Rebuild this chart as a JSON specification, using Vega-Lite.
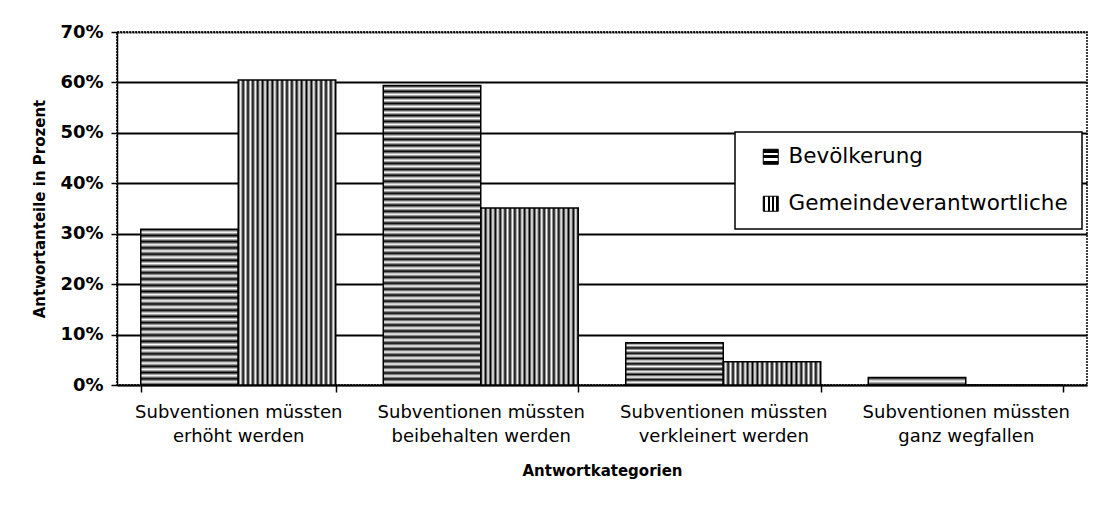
{
  "$schema": "https://vega.github.io/schema/vega-lite/v6.json",
  "width": 970,
  "height": 353,
  "autosize": "none",
  "padding": {"left": 117, "top": 32, "right": 12, "bottom": 127},
  "background": "white",
  "data": {
    "values": [
      {"Kategorie": "Subventionen müssten erhöht werden", "Gruppe": "Bevölkerung", "Anteil": 30.9},
      {"Kategorie": "Subventionen müssten erhöht werden", "Gruppe": "Gemeindeverantwortliche", "Anteil": 60.5},
      {"Kategorie": "Subventionen müssten beibehalten werden", "Gruppe": "Bevölkerung", "Anteil": 59.4},
      {"Kategorie": "Subventionen müssten beibehalten werden", "Gruppe": "Gemeindeverantwortliche", "Anteil": 35.1},
      {"Kategorie": "Subventionen müssten verkleinert werden", "Gruppe": "Bevölkerung", "Anteil": 8.4},
      {"Kategorie": "Subventionen müssten verkleinert werden", "Gruppe": "Gemeindeverantwortliche", "Anteil": 4.6},
      {"Kategorie": "Subventionen müssten ganz wegfallen", "Gruppe": "Bevölkerung", "Anteil": 1.5},
      {"Kategorie": "Subventionen müssten ganz wegfallen", "Gruppe": "Gemeindeverantwortliche", "Anteil": 0}
    ]
  },
  "mark": {"type": "bar", "stroke": "black", "strokeWidth": 1.5},
  "encoding": {
    "x": {
      "field": "Kategorie",
      "type": "nominal",
      "sort": null,
      "scale": {"paddingInner": 0.196, "paddingOuter": 0.098},
      "axis": {
        "title": "Antwortkategorien",
        "labelAngle": 0,
        "labelExpr": "[slice(datum.label,0,20), slice(datum.label,21)]",
        "labelFont": "DejaVu Sans",
        "labelFontSize": 18,
        "labelLineHeight": 24,
        "labelColor": "black",
        "labelLimit": 400,
        "labelPadding": 11,
        "tickBand": "extent",
        "tickSize": 7,
        "tickColor": "black",
        "tickWidth": 1.5,
        "domainColor": "black",
        "domainWidth": 1.5,
        "grid": false,
        "titleFont": "DejaVu Sans",
        "titleFontSize": 15,
        "titleFontWeight": "bold",
        "titleColor": "black",
        "titlePadding": 18
      }
    },
    "xOffset": {"field": "Gruppe", "type": "nominal", "sort": ["Bevölkerung", "Gemeindeverantwortliche"]},
    "y": {
      "field": "Anteil",
      "type": "quantitative",
      "scale": {"domain": [0, 70], "nice": false},
      "axis": {
        "title": "Antwortanteile in Prozent",
        "values": [0, 10, 20, 30, 40, 50, 60, 70],
        "labelExpr": "datum.value + '%'",
        "labelFont": "DejaVu Sans",
        "labelFontSize": 18,
        "labelFontWeight": "bold",
        "labelColor": "black",
        "labelPadding": 8,
        "tickSize": 6,
        "tickColor": "black",
        "tickWidth": 1.5,
        "domainColor": "black",
        "domainWidth": 1.5,
        "grid": true,
        "gridColor": "black",
        "gridWidth": 1.8,
        "gridOpacity": 1,
        "gridDash": {"condition": {"test": "datum.value == 70", "value": [2, 1]}, "value": []},
        "titleFont": "DejaVu Sans",
        "titleFontSize": 15,
        "titleFontWeight": "bold",
        "titleColor": "black",
        "titlePadding": 12
      }
    },
    "fill": {
      "field": "Gruppe",
      "type": "nominal",
      "scale": {
        "domain": ["Bevölkerung", "Gemeindeverantwortliche"],
        "range": [
          {"expr": "{gradient: 'linear', x1: 0, y1: 0, x2: 0, y2: 1, stops: [{offset: 0, color: '#000'}, {offset: 0.25, color: '#000'}, {offset: 0.25, color: '#fff'}, {offset: 0.4, color: '#fff'}, {offset: 0.4, color: '#000'}, {offset: 0.6, color: '#000'}, {offset: 0.6, color: '#fff'}, {offset: 0.75, color: '#fff'}, {offset: 0.75, color: '#000'}, {offset: 1, color: '#000'}]}"},
          {"expr": "{gradient: 'linear', x1: 0, y1: 0, x2: 1, y2: 0, stops: [{offset: 0, color: '#000'}, {offset: 0.15, color: '#000'}, {offset: 0.15, color: '#fff'}, {offset: 0.3, color: '#fff'}, {offset: 0.3, color: '#000'}, {offset: 0.42, color: '#000'}, {offset: 0.42, color: '#fff'}, {offset: 0.58, color: '#fff'}, {offset: 0.58, color: '#000'}, {offset: 0.7, color: '#000'}, {offset: 0.7, color: '#fff'}, {offset: 0.85, color: '#fff'}, {offset: 0.85, color: '#000'}, {offset: 1, color: '#000'}]}"}
        ]
      },
      "legend": {
        "orient": "none",
        "legendX": 618,
        "legendY": 100,
        "title": null,
        "symbolType": "square",
        "symbolSize": 225,
        "symbolStrokeColor": "black",
        "symbolStrokeWidth": 1,
        "symbolOpacity": 1,
        "symbolOffset": 11,
        "labelFont": "DejaVu Sans",
        "labelFontSize": 21.5,
        "labelColor": "black",
        "labelLimit": 400,
        "labelOffset": 7,
        "labelExpr": "datum.label + ' '",
        "rowPadding": 24,
        "padding": 14,
        "strokeColor": "black",
        "fillColor": "white",
        "encode": {
          "legend": {"update": {"strokeWidth": {"value": 1.5}}}
        }
      },
      "condition": [
        {"test": "datum.Gruppe == 'Gemeindeverantwortliche'", "value": {"gradient": "linear", "x1": 0, "y1": 0, "x2": 1, "y2": 0, "stops": [
          {"offset": 0, "color": "#000"}, {"offset": 0.025, "color": "#fff"}, {"offset": 0.05, "color": "#000"}, {"offset": 0.075, "color": "#fff"}, {"offset": 0.1, "color": "#000"}, {"offset": 0.125, "color": "#fff"}, {"offset": 0.15, "color": "#000"}, {"offset": 0.175, "color": "#fff"}, {"offset": 0.2, "color": "#000"}, {"offset": 0.225, "color": "#fff"},
          {"offset": 0.25, "color": "#000"}, {"offset": 0.275, "color": "#fff"}, {"offset": 0.3, "color": "#000"}, {"offset": 0.325, "color": "#fff"}, {"offset": 0.35, "color": "#000"}, {"offset": 0.375, "color": "#fff"}, {"offset": 0.4, "color": "#000"}, {"offset": 0.425, "color": "#fff"}, {"offset": 0.45, "color": "#000"}, {"offset": 0.475, "color": "#fff"},
          {"offset": 0.5, "color": "#000"}, {"offset": 0.525, "color": "#fff"}, {"offset": 0.55, "color": "#000"}, {"offset": 0.575, "color": "#fff"}, {"offset": 0.6, "color": "#000"}, {"offset": 0.625, "color": "#fff"}, {"offset": 0.65, "color": "#000"}, {"offset": 0.675, "color": "#fff"}, {"offset": 0.7, "color": "#000"}, {"offset": 0.725, "color": "#fff"},
          {"offset": 0.75, "color": "#000"}, {"offset": 0.775, "color": "#fff"}, {"offset": 0.8, "color": "#000"}, {"offset": 0.825, "color": "#fff"}, {"offset": 0.85, "color": "#000"}, {"offset": 0.875, "color": "#fff"}, {"offset": 0.9, "color": "#000"}, {"offset": 0.925, "color": "#fff"}, {"offset": 0.95, "color": "#000"}, {"offset": 0.975, "color": "#fff"},
          {"offset": 1, "color": "#000"}]}},
        {"test": "indexof(datum.Kategorie, 'erhöht') >= 0", "value": {"gradient": "linear", "x1": 0, "y1": 0, "x2": 0, "y2": 1, "stops": [
          {"offset": 0, "color": "#000"}, {"offset": 0.02, "color": "#fff"}, {"offset": 0.04, "color": "#000"}, {"offset": 0.06, "color": "#fff"}, {"offset": 0.08, "color": "#000"}, {"offset": 0.1, "color": "#fff"}, {"offset": 0.12, "color": "#000"}, {"offset": 0.14, "color": "#fff"}, {"offset": 0.16, "color": "#000"}, {"offset": 0.18, "color": "#fff"},
          {"offset": 0.2, "color": "#000"}, {"offset": 0.22, "color": "#fff"}, {"offset": 0.24, "color": "#000"}, {"offset": 0.26, "color": "#fff"}, {"offset": 0.28, "color": "#000"}, {"offset": 0.3, "color": "#fff"}, {"offset": 0.32, "color": "#000"}, {"offset": 0.34, "color": "#fff"}, {"offset": 0.36, "color": "#000"}, {"offset": 0.38, "color": "#fff"},
          {"offset": 0.4, "color": "#000"}, {"offset": 0.42, "color": "#fff"}, {"offset": 0.44, "color": "#000"}, {"offset": 0.46, "color": "#fff"}, {"offset": 0.48, "color": "#000"}, {"offset": 0.5, "color": "#fff"}, {"offset": 0.52, "color": "#000"}, {"offset": 0.54, "color": "#fff"}, {"offset": 0.56, "color": "#000"}, {"offset": 0.58, "color": "#fff"},
          {"offset": 0.6, "color": "#000"}, {"offset": 0.62, "color": "#fff"}, {"offset": 0.64, "color": "#000"}, {"offset": 0.66, "color": "#fff"}, {"offset": 0.68, "color": "#000"}, {"offset": 0.7, "color": "#fff"}, {"offset": 0.72, "color": "#000"}, {"offset": 0.74, "color": "#fff"}, {"offset": 0.76, "color": "#000"}, {"offset": 0.78, "color": "#fff"},
          {"offset": 0.8, "color": "#000"}, {"offset": 0.82, "color": "#fff"}, {"offset": 0.84, "color": "#000"}, {"offset": 0.86, "color": "#fff"}, {"offset": 0.88, "color": "#000"}, {"offset": 0.9, "color": "#fff"}, {"offset": 0.92, "color": "#000"}, {"offset": 0.94, "color": "#fff"}, {"offset": 0.96, "color": "#000"}, {"offset": 0.98, "color": "#fff"},
          {"offset": 1, "color": "#000"}]}},
        {"test": "indexof(datum.Kategorie, 'beibehalten') >= 0", "value": {"gradient": "linear", "x1": 0, "y1": 0, "x2": 0, "y2": 1, "stops": [
          {"offset": 0, "color": "#000"}, {"offset": 0.01, "color": "#fff"}, {"offset": 0.02, "color": "#000"}, {"offset": 0.03, "color": "#fff"}, {"offset": 0.04, "color": "#000"}, {"offset": 0.05, "color": "#fff"}, {"offset": 0.06, "color": "#000"}, {"offset": 0.07, "color": "#fff"}, {"offset": 0.08, "color": "#000"}, {"offset": 0.09, "color": "#fff"},
          {"offset": 0.1, "color": "#000"}, {"offset": 0.11, "color": "#fff"}, {"offset": 0.12, "color": "#000"}, {"offset": 0.13, "color": "#fff"}, {"offset": 0.14, "color": "#000"}, {"offset": 0.15, "color": "#fff"}, {"offset": 0.16, "color": "#000"}, {"offset": 0.17, "color": "#fff"}, {"offset": 0.18, "color": "#000"}, {"offset": 0.19, "color": "#fff"},
          {"offset": 0.2, "color": "#000"}, {"offset": 0.21, "color": "#fff"}, {"offset": 0.22, "color": "#000"}, {"offset": 0.23, "color": "#fff"}, {"offset": 0.24, "color": "#000"}, {"offset": 0.25, "color": "#fff"}, {"offset": 0.26, "color": "#000"}, {"offset": 0.27, "color": "#fff"}, {"offset": 0.28, "color": "#000"}, {"offset": 0.29, "color": "#fff"},
          {"offset": 0.3, "color": "#000"}, {"offset": 0.31, "color": "#fff"}, {"offset": 0.32, "color": "#000"}, {"offset": 0.33, "color": "#fff"}, {"offset": 0.34, "color": "#000"}, {"offset": 0.35, "color": "#fff"}, {"offset": 0.36, "color": "#000"}, {"offset": 0.37, "color": "#fff"}, {"offset": 0.38, "color": "#000"}, {"offset": 0.39, "color": "#fff"},
          {"offset": 0.4, "color": "#000"}, {"offset": 0.41, "color": "#fff"}, {"offset": 0.42, "color": "#000"}, {"offset": 0.43, "color": "#fff"}, {"offset": 0.44, "color": "#000"}, {"offset": 0.45, "color": "#fff"}, {"offset": 0.46, "color": "#000"}, {"offset": 0.47, "color": "#fff"}, {"offset": 0.48, "color": "#000"}, {"offset": 0.49, "color": "#fff"},
          {"offset": 0.5, "color": "#000"}, {"offset": 0.51, "color": "#fff"}, {"offset": 0.52, "color": "#000"}, {"offset": 0.53, "color": "#fff"}, {"offset": 0.54, "color": "#000"}, {"offset": 0.55, "color": "#fff"}, {"offset": 0.56, "color": "#000"}, {"offset": 0.57, "color": "#fff"}, {"offset": 0.58, "color": "#000"}, {"offset": 0.59, "color": "#fff"},
          {"offset": 0.6, "color": "#000"}, {"offset": 0.61, "color": "#fff"}, {"offset": 0.62, "color": "#000"}, {"offset": 0.63, "color": "#fff"}, {"offset": 0.64, "color": "#000"}, {"offset": 0.65, "color": "#fff"}, {"offset": 0.66, "color": "#000"}, {"offset": 0.67, "color": "#fff"}, {"offset": 0.68, "color": "#000"}, {"offset": 0.69, "color": "#fff"},
          {"offset": 0.7, "color": "#000"}, {"offset": 0.71, "color": "#fff"}, {"offset": 0.72, "color": "#000"}, {"offset": 0.73, "color": "#fff"}, {"offset": 0.74, "color": "#000"}, {"offset": 0.75, "color": "#fff"}, {"offset": 0.76, "color": "#000"}, {"offset": 0.77, "color": "#fff"}, {"offset": 0.78, "color": "#000"}, {"offset": 0.79, "color": "#fff"},
          {"offset": 0.8, "color": "#000"}, {"offset": 0.81, "color": "#fff"}, {"offset": 0.82, "color": "#000"}, {"offset": 0.83, "color": "#fff"}, {"offset": 0.84, "color": "#000"}, {"offset": 0.85, "color": "#fff"}, {"offset": 0.86, "color": "#000"}, {"offset": 0.87, "color": "#fff"}, {"offset": 0.88, "color": "#000"}, {"offset": 0.89, "color": "#fff"},
          {"offset": 0.9, "color": "#000"}, {"offset": 0.91, "color": "#fff"}, {"offset": 0.92, "color": "#000"}, {"offset": 0.93, "color": "#fff"}, {"offset": 0.94, "color": "#000"}, {"offset": 0.95, "color": "#fff"}, {"offset": 0.96, "color": "#000"}, {"offset": 0.97, "color": "#fff"}, {"offset": 0.98, "color": "#000"}, {"offset": 0.99, "color": "#fff"},
          {"offset": 1, "color": "#000"}]}},
        {"test": "indexof(datum.Kategorie, 'verkleinert') >= 0", "value": {"gradient": "linear", "x1": 0, "y1": 0, "x2": 0, "y2": 1, "stops": [
          {"offset": 0, "color": "#000"}, {"offset": 0.0625, "color": "#fff"}, {"offset": 0.125, "color": "#000"}, {"offset": 0.1875, "color": "#fff"}, {"offset": 0.25, "color": "#000"}, {"offset": 0.3125, "color": "#fff"}, {"offset": 0.375, "color": "#000"}, {"offset": 0.4375, "color": "#fff"},
          {"offset": 0.5, "color": "#000"}, {"offset": 0.5625, "color": "#fff"}, {"offset": 0.625, "color": "#000"}, {"offset": 0.6875, "color": "#fff"}, {"offset": 0.75, "color": "#000"}, {"offset": 0.8125, "color": "#fff"}, {"offset": 0.875, "color": "#000"}, {"offset": 0.9375, "color": "#fff"},
          {"offset": 1, "color": "#000"}]}},
        {"test": "indexof(datum.Kategorie, 'wegfallen') >= 0", "value": {"gradient": "linear", "x1": 0, "y1": 0, "x2": 0, "y2": 1, "stops": [
          {"offset": 0, "color": "#000"}, {"offset": 0.5, "color": "#fff"}, {"offset": 1, "color": "#000"}]}}
      ]
    }
  },
  "config": {
    "view": {"stroke": "black", "strokeDash": [2, 1], "strokeWidth": 1.5}
  }
}
